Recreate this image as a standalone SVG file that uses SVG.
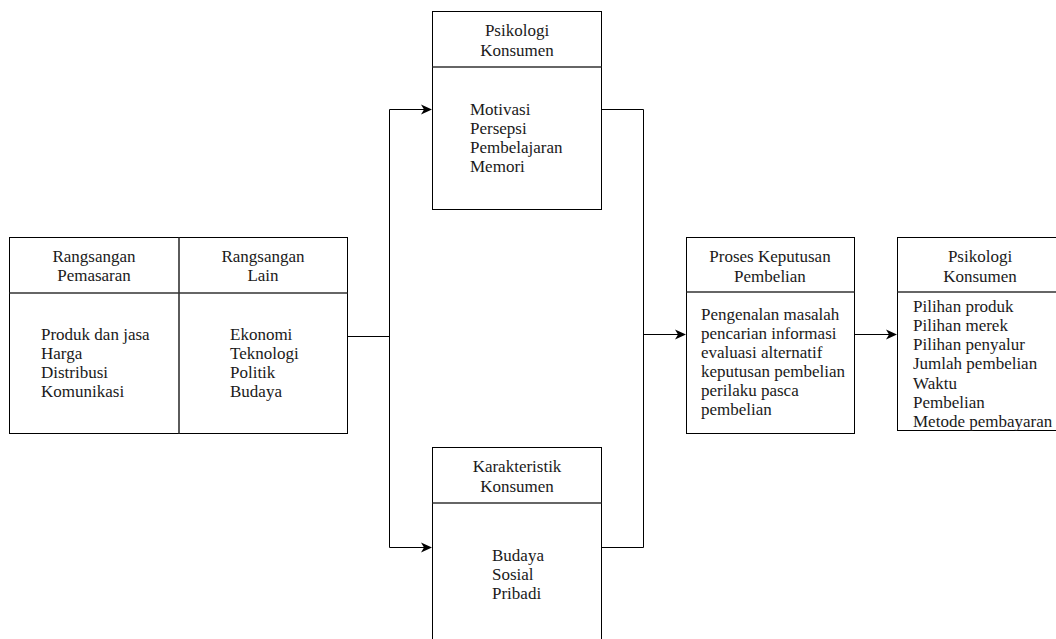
<svg xmlns="http://www.w3.org/2000/svg" width="1056" height="639" viewBox="0 0 1056 639">
<style>
.box{fill:#fff;stroke:#000;stroke-width:1}
.div{stroke:#333;stroke-width:1.6;fill:none}
text{font-family:'Times New Roman','Liberation Serif',Tinos,serif;font-size:17px;fill:#1a1a1a}
.c{text-anchor:middle}
.ln{stroke:#000;stroke-width:1;fill:none}
</style>
<defs>
<marker id="arr" markerWidth="12" markerHeight="12" refX="10" refY="6" orient="auto" markerUnits="userSpaceOnUse">
<path d="M0,1 L11,6 L0,11 L3,6 Z" fill="#000"/>
</marker>
</defs>
<rect width="1056" height="639" fill="#fff"/>
<g id="connectors">
<path class="ln" d="M348,336.5 H389.5"/>
<path class="ln" d="M389.5,547 V109.5 H431" marker-end="url(#arr)"/>
<path class="ln" d="M389.5,336 V547.5 H431" marker-end="url(#arr)"/>
<path class="ln" d="M601,109.5 H643.5 V547.5 H601"/>
<path class="ln" d="M643.5,334.5 H685" marker-end="url(#arr)"/>
<path class="ln" d="M854,334.5 H896" marker-end="url(#arr)"/>
</g>
<g id="rangsangan">
<rect class="box" x="9.5" y="237.5" width="338" height="196"/>
<line class="div" x1="9.5" y1="293" x2="347.5" y2="293"/>
<line class="div" x1="179" y1="237.5" x2="179" y2="433.5"/>
<text class="c" x="94" y="262">Rangsangan</text>
<text class="c" x="94" y="281">Pemasaran</text>
<text class="c" x="263" y="262">Rangsangan</text>
<text class="c" x="263" y="281">Lain</text>
<text x="41" y="340">Produk dan jasa</text>
<text x="41" y="359">Harga</text>
<text x="41" y="378">Distribusi</text>
<text x="41" y="397">Komunikasi</text>
<text x="230" y="340">Ekonomi</text>
<text x="230" y="359">Teknologi</text>
<text x="230" y="378">Politik</text>
<text x="230" y="397">Budaya</text>
</g>
<g id="psikologi-konsumen-1">
<rect class="box" x="432.5" y="11.5" width="169" height="198"/>
<line class="div" x1="432.5" y1="67" x2="601.5" y2="67"/>
<text class="c" x="517" y="36">Psikologi</text>
<text class="c" x="517" y="56">Konsumen</text>
<text x="470" y="115">Motivasi</text>
<text x="470" y="134">Persepsi</text>
<text x="470" y="153">Pembelajaran</text>
<text x="470" y="172">Memori</text>
</g>
<g id="karakteristik-konsumen">
<rect class="box" x="432.5" y="447.5" width="169" height="220"/>
<line class="div" x1="432.5" y1="503" x2="601.5" y2="503"/>
<text class="c" x="517" y="472">Karakteristik</text>
<text class="c" x="517" y="492">Konsumen</text>
<text x="492" y="561">Budaya</text>
<text x="492" y="580">Sosial</text>
<text x="492" y="599">Pribadi</text>
</g>
<g id="proses-keputusan">
<rect class="box" x="686.5" y="237.5" width="168" height="196"/>
<line class="div" x1="686.5" y1="292" x2="854.5" y2="292"/>
<text class="c" x="770" y="262">Proses Keputusan</text>
<text class="c" x="770" y="282">Pembelian</text>
<text x="701" y="320">Pengenalan masalah</text>
<text x="701" y="339">pencarian informasi</text>
<text x="701" y="358">evaluasi alternatif</text>
<text x="701" y="377">keputusan pembelian</text>
<text x="701" y="396">perilaku pasca</text>
<text x="701" y="415">pembelian</text>
</g>
<g id="psikologi-konsumen-2">
<rect class="box" x="897.5" y="237.5" width="200" height="193"/>
<line class="div" x1="897.5" y1="292" x2="1097" y2="292"/>
<text class="c" x="980" y="262">Psikologi</text>
<text class="c" x="980" y="282">Konsumen</text>
<text x="913" y="312">Pilihan produk</text>
<text x="913" y="331">Pilihan merek</text>
<text x="913" y="350">Pilihan penyalur</text>
<text x="913" y="369">Jumlah pembelian</text>
<text x="913" y="389">Waktu</text>
<text x="913" y="408">Pembelian</text>
<text x="913" y="427">Metode pembayaran</text>
</g>
</svg>
